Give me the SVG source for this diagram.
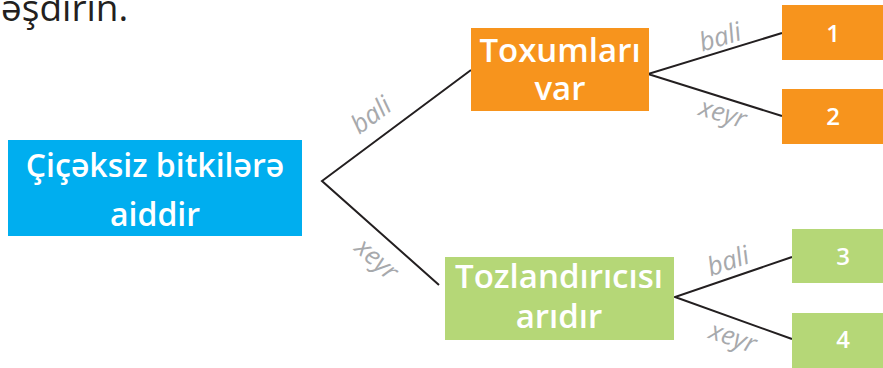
<svg xmlns="http://www.w3.org/2000/svg" width="883" height="368" viewBox="0 0 883 368">
<style>
.box{font-family:"Open Sans","Liberation Sans",sans-serif;font-weight:600;fill:#fff;text-anchor:middle}
.lbl{font-family:"Open Sans","Liberation Sans",sans-serif;font-style:italic;font-size:26px;fill:#a7a9ac;text-anchor:middle}
.ln{stroke:#231f20;stroke-width:2;fill:none}
</style>
<text x="1" y="21" font-family="'Open Sans','Liberation Sans',sans-serif" font-size="37" fill="#231f20">əşdirin.</text>
<g id="connectors">
<polyline class="ln" points="471,70 322,181 439,285"/>
<polyline class="ln" points="782,33 648,74 782,116"/>
<polyline class="ln" points="792,257 675,297 792,339"/>
</g>
<g id="labels">
<text class="lbl" transform="translate(371,115) rotate(-37)" y="9">bali</text>
<text class="lbl" transform="translate(377,259) rotate(42)" y="9">xeyr</text>
<text class="lbl" transform="translate(720,37) rotate(-17)" y="9">bali</text>
<text class="lbl" transform="translate(723,113) rotate(17)" y="9">xeyr</text>
<text class="lbl" transform="translate(728,261) rotate(-19)" y="9">bali</text>
<text class="lbl" transform="translate(733,337) rotate(19)" y="9">xeyr</text>
</g>
<g id="root">
<rect x="8" y="140" width="294" height="96" fill="#00aeef"/>
<text class="box" x="155" y="177" font-size="32">Çiçəksiz bitkilərə</text>
<text class="box" x="155" y="226" font-size="32">aiddir</text>
</g>
<g id="seeds">
<rect x="471" y="28" width="178" height="83" fill="#f7941d"/>
<text class="box" x="560" y="62" font-size="33">Toxumları</text>
<text class="box" x="560" y="100" font-size="33">var</text>
</g>
<g id="pollinator">
<rect x="445" y="257" width="229" height="83" fill="#b5d777"/>
<text class="box" x="559" y="288" font-size="33">Tozlandırıcısı</text>
<text class="box" x="559" y="328" font-size="33">arıdır</text>
</g>
<g id="n1">
<rect x="782" y="5" width="101" height="55" fill="#f7941d"/>
<text class="box" x="833" y="42" font-size="24">1</text>
</g>
<g id="n2">
<rect x="782" y="89" width="101" height="55" fill="#f7941d"/>
<text class="box" x="833" y="125" font-size="24">2</text>
</g>
<g id="n3">
<rect x="792" y="229" width="91" height="54" fill="#b5d777"/>
<text class="box" x="843" y="265" font-size="24">3</text>
</g>
<g id="n4">
<rect x="792" y="313" width="91" height="55" fill="#b5d777"/>
<text class="box" x="843" y="348" font-size="24">4</text>
</g>
</svg>
